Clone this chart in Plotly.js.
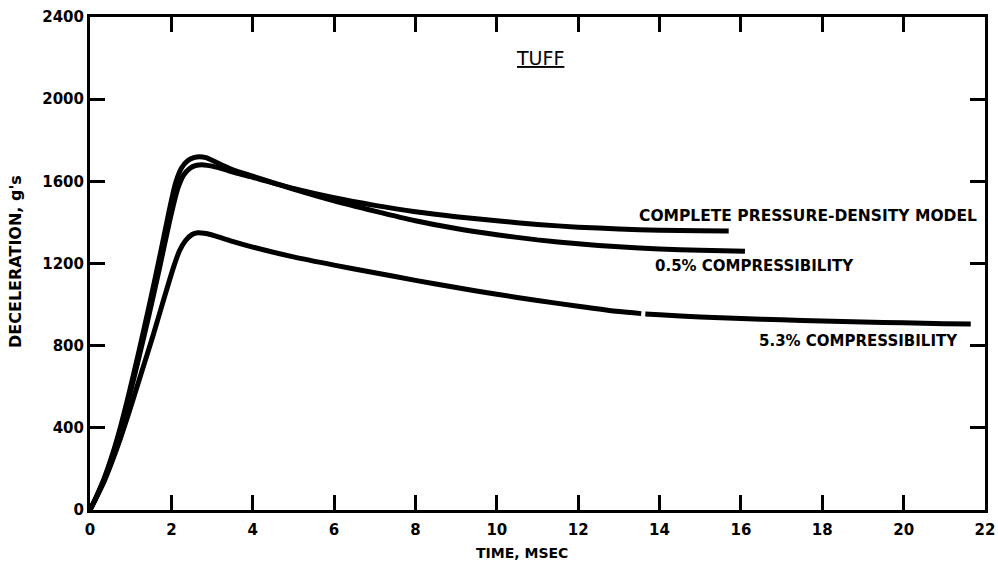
<!DOCTYPE html>
<html>
<head>
<meta charset="utf-8">
<script src="https://cdn.plot.ly/plotly-3.0.1.min.js"></script>
<style>html,body{margin:0;padding:0;background:#fff;}#chart{width:998px;height:567px;}</style>
</head>
<body>
<div id="chart"></div>
<script>
// Complete pressure-density model
const completeX = [0, 0.15, 0.35, 0.55, 0.75, 0.95, 1.2, 1.45, 1.7, 1.95, 2.15, 2.3, 2.45, 2.6, 2.8, 3.0, 3.3, 3.6, 4, 5, 6, 7, 8, 9, 10, 11, 12, 13, 14, 15, 15.7];
const completeY = [0, 60, 150, 260, 390, 540, 740, 950, 1170, 1400, 1560, 1630, 1663, 1677, 1680, 1674, 1658, 1640, 1620, 1565, 1520, 1483, 1452, 1428, 1408, 1390, 1377, 1368, 1362, 1359, 1358];
// 0.5% compressibility
const c05X = [0, 0.15, 0.35, 0.55, 0.75, 0.95, 1.2, 1.45, 1.7, 1.95, 2.1, 2.25, 2.4, 2.55, 2.7, 2.85, 3.05, 3.3, 3.6, 4, 5, 6, 7, 8, 9, 10, 11, 12, 13, 14, 15, 16.1];
const c05Y = [0, 62, 155, 270, 405, 560, 770, 990, 1220, 1460, 1590, 1665, 1700, 1715, 1720, 1715, 1698, 1675, 1650, 1625, 1562, 1505, 1455, 1408, 1370, 1340, 1315, 1296, 1281, 1270, 1264, 1260];
// 5.3% compressibility (small break in the drawn line near 13.6 ms)
const c53X = [0, 0.15, 0.35, 0.55, 0.75, 0.95, 1.25, 1.55, 1.85, 2.05, 2.2, 2.35, 2.5, 2.65, 2.85, 3.05, 3.5, 4, 5, 6, 7, 8, 9, 10, 11, 12, 13, 13.55, 13.6, 13.65, 14, 15, 16, 17, 18, 19, 20, 21, 21.65];
const c53Y = [0, 58, 140, 240, 350, 470, 660, 850, 1050, 1180, 1262, 1312, 1340, 1350, 1346, 1336, 1308, 1280, 1232, 1192, 1155, 1118, 1083, 1050, 1020, 992, 966, 956, null, 954, 950, 940, 932, 926, 920, 915, 911, 907, 905];

const xTicks = [0, 2, 4, 6, 8, 10, 12, 14, 16, 18, 20, 22];
const yTicks = [0, 400, 800, 1200, 1600, 2000, 2400];

const labelTexts = ['COMPLETE PRESSURE-DENSITY MODEL', '0.5% COMPRESSIBILITY', '5.3% COMPRESSIBILITY'];

const lineStyle = {color: '#000', width: 5, shape: 'spline', smoothing: 0.6};
const traces = [
  {x: completeX, y: completeY, mode: 'lines', line: lineStyle, name: labelTexts[0], connectgaps: false},
  {x: c05X, y: c05Y, mode: 'lines', line: lineStyle, name: labelTexts[1], connectgaps: false},
  {x: c53X, y: c53Y, mode: 'lines', line: lineStyle, name: labelTexts[2], connectgaps: false}
];

const fam = 'DejaVu Sans, Arial, sans-serif';
const axisCommon = {
  showgrid: false, zeroline: false, showline: true, linecolor: '#000', linewidth: 3,
  mirror: 'ticks', ticks: 'inside', ticklen: 15, tickwidth: 3, tickcolor: '#000',
  tickfont: {family: fam, size: 15, color: '#000', weight: 'bold'}, fixedrange: true
};

const layout = {
  width: 998, height: 567,
  margin: {l: 90, r: 13, t: 17, b: 57},
  paper_bgcolor: '#fff', plot_bgcolor: '#fff',
  showlegend: false,
  xaxis: Object.assign({}, axisCommon, {range: [0, 22], tickmode: 'array', tickvals: xTicks, ticktext: xTicks.map(String), ticklabelstandoff: 4}),
  yaxis: Object.assign({}, axisCommon, {range: [0, 2400], tickmode: 'array', tickvals: yTicks, ticktext: yTicks.map(String)}),
  annotations: [
    {text: '<u>TUFF</u>', xref: 'paper', yref: 'paper', x: (540 - 90) / 895, y: (510 - 58) / 493, xanchor: 'center', yanchor: 'middle', showarrow: false, font: {family: fam, size: 19, color: '#000'}},
    {text: labelTexts[0], xref: 'paper', yref: 'paper', x: (808 - 90) / 895, xanchor: 'center', y: (510 - 216) / 493, yanchor: 'middle', showarrow: false, font: {family: fam, size: 15.5, color: '#000', weight: 'bold'}},
    {text: labelTexts[1], xref: 'paper', yref: 'paper', x: (653 - 90) / 895, xanchor: 'left', y: (510 - 266) / 493, yanchor: 'middle', showarrow: false, font: {family: fam, size: 15, color: '#000', weight: 'bold'}},
    {text: labelTexts[2], xref: 'paper', yref: 'paper', x: (757 - 90) / 895, xanchor: 'left', y: (510 - 341) / 493, yanchor: 'middle', showarrow: false, font: {family: fam, size: 15, color: '#000', weight: 'bold'}},
    {text: 'TIME, MSEC', xref: 'paper', yref: 'paper', x: (522 - 90) / 895, y: (510 - 553) / 493, xanchor: 'center', yanchor: 'middle', showarrow: false, font: {family: fam, size: 14, color: '#000', weight: 'bold'}},
    {text: "DECELERATION, g's", xref: 'paper', yref: 'paper', x: (15 - 90) / 895, y: (510 - 262) / 493, xanchor: 'center', yanchor: 'middle', textangle: -90, showarrow: false, font: {family: fam, size: 16, color: '#000', weight: 'bold'}}
  ]
};

Plotly.newPlot('chart', traces, layout, {displayModeBar: false, staticPlot: true});
</script>
</body>
</html>
